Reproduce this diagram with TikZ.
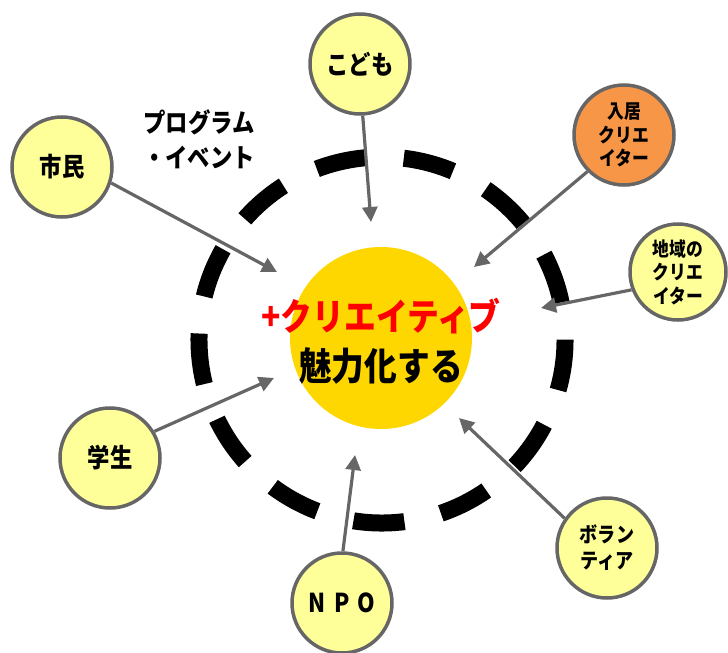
\documentclass[tikz,border=0pt]{standalone}
\usepackage{fontspec}
\setmainfont{Noto Sans CJK JP}[FakeStretch=0.86]
\usetikzlibrary{arrows.meta}
\definecolor{linegray}{HTML}{666666}
\definecolor{lightyel}{HTML}{FFFF99}
\definecolor{orangec}{HTML}{F79646}
\definecolor{coregold}{HTML}{FFD700}
\definecolor{pinkred}{HTML}{FF0000}
\begin{document}
\begin{tikzpicture}[x=1pt,y=-1pt,
  person/.style={circle, draw=linegray, line width=3.5pt, fill=lightyel, minimum size=100pt, inner sep=0pt, align=center, font=\bfseries\fontsize{26}{28}\selectfont},
  smalltxt/.style={font=\bfseries\fontsize{19.5}{23.5}\selectfont},
  midtxt/.style={font=\bfseries\fontsize{21}{26}\selectfont},
  link/.style={draw=linegray, line width=3.2pt, -{Triangle[length=15pt,width=15pt]}},
  bigtxt/.style={font=\bfseries\fontsize{37}{40}\selectfont, inner sep=0pt}]
\useasboundingbox (0,0) rectangle (728,653);
% dashed ring
\draw[line width=17pt, dash pattern=on 51pt off 37.45pt] (382,340) ++(83:183) arc[start angle=83, end angle=443, radius=183];
% core
\node[circle, fill=coregold, minimum size=182pt, inner sep=0pt] (core) at (381,338) {};
\node[bigtxt, text=pinkred] (t1) at (381,316) {+クリエイティブ};
\node[bigtxt, font=\bfseries\fontsize{38}{40}\selectfont] (t2) at (381,366) {魅力化する};
% satellites
\node[person] (kodomo) at (360,64) {こども};
\node[person] (shimin) at (62,167) {市民};
\node[person, fill=orangec, smalltxt] (nyukyo) at (624,135) {入居\\クリエ\\イター};
\node[person, smalltxt, minimum size=96pt] (chiiki) at (678,272) {地域の\\クリエ\\イター};
\node[person, midtxt] (vol) at (607,548) {ボラン\\ティア};
\node[person] (npo) at (342,603) {N\hspace{8pt}P\hspace{8pt}O};
\node[person] (gakusei) at (110,458) {学生};
\node[align=center, font=\bfseries\fontsize{26}{35}\selectfont] (prog) at (199,139) {プログラム\\・イベント};
% arrow tips
\coordinate (tipA) at (277,272);
\coordinate (tipB) at (371,222);
\coordinate (tipC) at (474,267);
\coordinate (tipD) at (541,308);
\coordinate (tipE) at (459,418);
\coordinate (tipF) at (355,455);
\coordinate (tipG) at (274,378);
\draw[link] (shimin.-18) -- (tipA);
\draw[link] (kodomo.-87) -- (tipB);
\draw[link] (nyukyo.-135) -- (tipC);
\draw[link] (chiiki.-159) -- (tipD);
\draw[link] (vol.145) -- (tipE);
\draw[link] (npo.89) -- (tipF);
\draw[link] (gakusei.31) -- (tipG);
\end{tikzpicture}
\end{document}
